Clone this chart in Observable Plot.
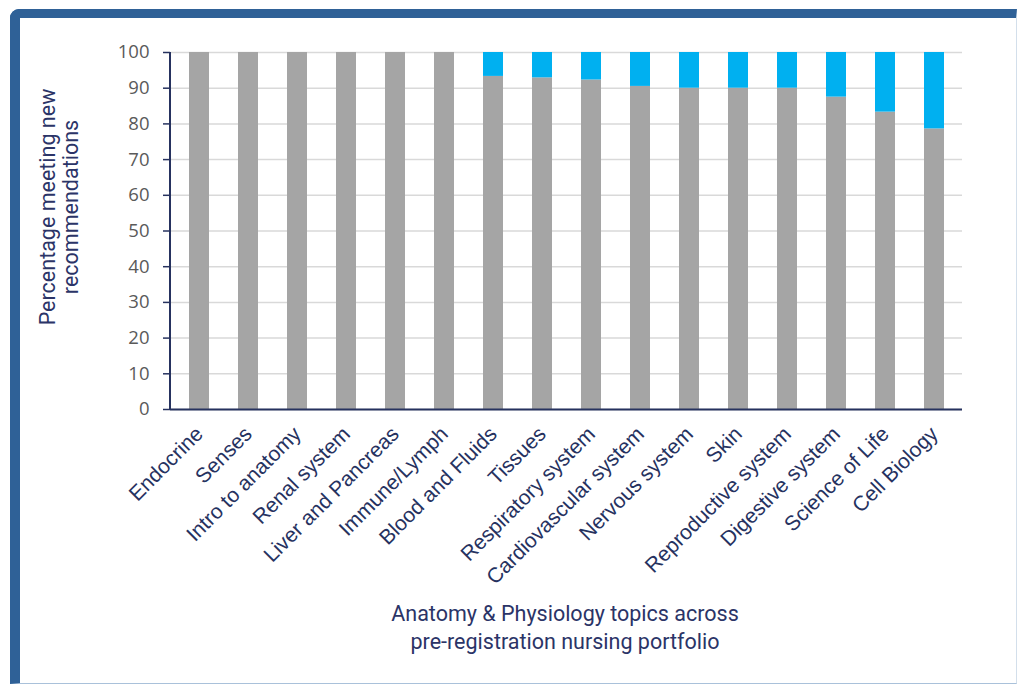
<!DOCTYPE html>
<html>
<head>
<meta charset="utf-8">
<script src="https://cdn.jsdelivr.net/npm/d3@7"></script>
<script src="https://cdn.jsdelivr.net/npm/@observablehq/plot@0.6"></script>
<style>
  html, body { margin: 0; padding: 0; background: #fff; }
  #wrap { position: relative; width: 1025px; height: 685px; overflow: hidden; background: #fff; }
  #chart { position: absolute; left: 0; top: 0; }
  #frame { position: absolute; left: 10px; top: 9px; width: 996px; height: 665px;
           border-left: 10px solid #2f6197; border-top: 9px solid #2f6197;
           border-right: 1px solid #d3dfeb; border-bottom: 1px solid #a9c1da;
           border-top-left-radius: 9px; pointer-events: none; }
  .title { position: absolute; color: #2b3467; font-family: Roboto, "Noto Sans", sans-serif;
           font-size: 21.5px; line-height: 28px; text-align: center; white-space: nowrap; }
  #xtitle { left: 365px; width: 400px; top: 600px; }
  #ytitle { left: 59px; top: 207px; width: 320px; transform: translate(-50%, -50%) rotate(-90deg);
            line-height: 23px; }
</style>
</head>
<body>
<div id="wrap">
  <div id="chart"></div>
  <div id="xtitle" class="title">Anatomy &amp; Physiology topics across<br>pre-registration nursing portfolio</div>
  <div id="ytitle" class="title">Percentage meeting new<br>recommendations</div>
  <div id="frame"></div>
</div>
<script>
const topics = ["Endocrine", "Senses", "Intro to anatomy", "Renal system", "Liver and Pancreas",
  "Immune/Lymph", "Blood and Fluids", "Tissues", "Respiratory system", "Cardiovascular system",
  "Nervous system", "Skin", "Reproductive system", "Digestive system", "Science of Life", "Cell Biology"];
const metValues = [100, 100, 100, 100, 100, 100, 93.3, 92.9, 92.3, 90.5, 90, 90, 90, 87.5, 83.3, 78.6];
const yTicks = [0, 10, 20, 30, 40, 50, 60, 70, 80, 90, 100];
const seriesNames = ["Meeting", "Not meeting"];
const seriesColors = ["#a5a5a5", "#00b0f0"];

const navy = "#26325f";

const rows = [];
topics.forEach((t, i) => {
  rows.push({topic: t, series: seriesNames[0], value: metValues[i]});
  rows.push({topic: t, series: seriesNames[1], value: 100 - metValues[i]});
});

const yAxisLine = (index, scales, values, dims) => {
  const g = document.createElementNS("http://www.w3.org/2000/svg", "line");
  const x = dims.marginLeft;
  g.setAttribute("x1", x); g.setAttribute("x2", x);
  g.setAttribute("y1", scales.y(100)); g.setAttribute("y2", scales.y(0));
  g.setAttribute("stroke", navy); g.setAttribute("stroke-width", 2);
  return g;
};

const chart = Plot.plot({
  width: 1025,
  height: 600,
  marginLeft: 170,
  marginRight: 63,
  marginTop: 52,
  marginBottom: 191,
  style: {background: "transparent", fontFamily: "'Liberation Sans', Arial, sans-serif", overflow: "visible"},
  x: {domain: topics, paddingInner: 0.6, paddingOuter: 0.3, label: null},
  y: {domain: [0, 100], label: null},
  color: {domain: seriesNames, range: seriesColors},
  marks: [
    Plot.gridY(yTicks, {stroke: "#d9d9d9", strokeOpacity: 1, strokeWidth: 1.5}),
    Plot.barY(rows, {x: "topic", y: "value", fill: "series", order: seriesNames}),
    Plot.axisY(yTicks, {tickSize: 7, stroke: navy, strokeWidth: 1.5, tickFormat: () => "", label: null}),
    Plot.axisY(yTicks, {tickSize: 0, tickPadding: 21, fill: "#5a5a5a", fontSize: 18.5,
      fontFamily: "'Open Sans', sans-serif", label: null}),
    Plot.axisX({tickSize: 0, tickPadding: 21, tickRotate: -45, fill: navy, fontSize: 21, label: null}),
    Plot.ruleY([0], {stroke: navy, strokeWidth: 2}),
    yAxisLine
  ]
});
document.getElementById("chart").appendChild(chart);
</script>
</body>
</html>
